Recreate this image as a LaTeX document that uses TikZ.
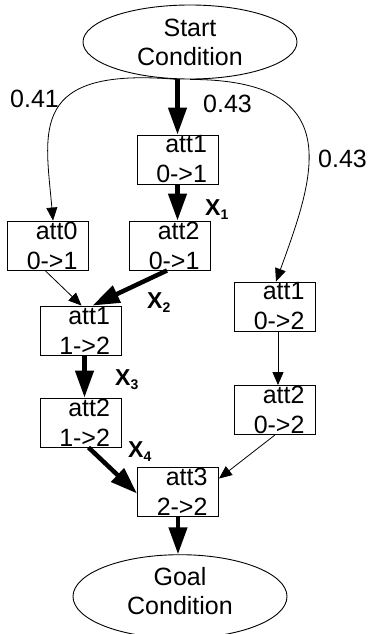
\documentclass[tikz,border=0pt]{standalone}
\usepackage{fontspec}
\setmainfont{Liberation Sans}
\usetikzlibrary{arrows.meta,shapes.geometric}
\begin{document}
\begin{tikzpicture}[x=1pt,y=-1pt,
  box/.style={draw,line width=0.9pt,rectangle,minimum height=49pt,text width=59pt,inner xsep=11pt,inner ysep=0pt,align=right,font=\fontsize{25}{30}\selectfont},
  oval/.style={draw,line width=0.9pt,ellipse,minimum width=214pt,minimum height=74pt,inner sep=0pt,align=center,font=\fontsize{25}{29}\selectfont},
  heavyarrow/.style={line width=4.5pt,-{Triangle[length=27pt,width=18pt]}},
  lightarrow/.style={line width=0.8pt,-{Triangle[length=13pt,width=11pt]}},
  lbl/.style={anchor=base west,inner sep=0pt,font=\fontsize{25}{30}\selectfont},
  xlbl/.style={anchor=base west,inner sep=0pt,font=\fontsize{23}{26}\selectfont\bfseries}]
\useasboundingbox (0,0) rectangle (367,634);

\node[oval] (start) at (190,42) {Start\\Condition};
\node[oval,text depth=12pt] (goal) at (180,596.5) {Goal\\Condition};

\node[box] (a11) at (177.5,159.5) {att1\\0->1};
\node[box] (a01) at (48,245.5) {att0\\0->1};
\node[box] (a21) at (170,245.5) {att2\\0->1};
\node[box] (b12) at (275,306.5) {att1\\0->2};
\node[box] (c12) at (80.5,330.5) {att1\\1->2};
\node[box] (d12) at (80.5,422.5) {att2\\1->2};
\node[box] (e02) at (275,410) {att2\\0->2};
\node[box] (f22) at (178,491.5) {att3\\2->2};

\node[lbl] (p1) at (10,107) {0.41};
\node[lbl] (p2) at (203,112) {0.43};
\node[lbl] (p3) at (318,167) {0.43};

\node[xlbl] (x1) at (205,215) {X\raisebox{-4pt}{\fontsize{14}{14}\selectfont 1}};
\node[xlbl] (x2) at (147,308) {X\raisebox{-4pt}{\fontsize{14}{14}\selectfont 2}};
\node[xlbl] (x3) at (115,385) {X\raisebox{-4pt}{\fontsize{14}{14}\selectfont 3}};
\node[xlbl] (x4) at (128,457) {X\raisebox{-4pt}{\fontsize{14}{14}\selectfont 4}};

\draw[heavyarrow] (start.south -| a11.north) -- (a11.north);
\draw[heavyarrow] (a11.south) -- (a11.south |- a21.north);
\draw[heavyarrow] ([xshift=-3pt]a21.south) -- ([xshift=12pt]c12.north);
\draw[lightarrow] ([xshift=-3pt]a01.south) -- ([xshift=1pt]c12.north);
\draw[heavyarrow] ([xshift=4pt]c12.south) -- ([xshift=4pt]d12.north);
\draw[heavyarrow] ([xshift=8pt]d12.south) -- ([yshift=-2pt]f22.west);
\draw[lightarrow] (e02.south) -- ([yshift=-12pt]f22.north east);
\draw[lightarrow] ([xshift=3pt]b12.south) -- ([xshift=3pt]e02.north);
\draw[heavyarrow] (f22.south) -- (f22.south |- goal.north);
\draw[lightarrow] (start.south -| a11.north) to[out=175,in=95,out distance=150pt,in distance=90pt] ([xshift=5pt]a01.north);
\draw[lightarrow] (start.south) to[out=0,in=70,out distance=160pt,in distance=110pt] ([xshift=1pt]b12.north);
\end{tikzpicture}
\end{document}
